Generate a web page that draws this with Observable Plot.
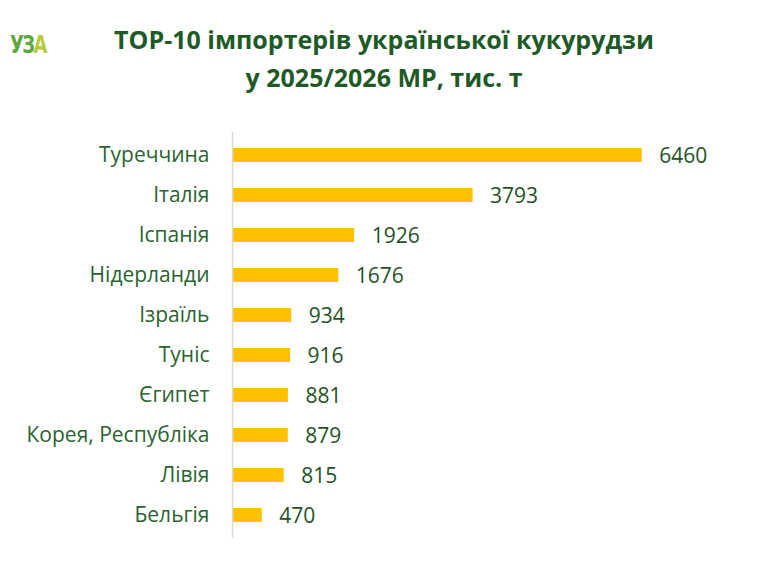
<!DOCTYPE html>
<html><head><meta charset="utf-8">
<script src="https://cdn.jsdelivr.net/npm/d3@7"></script>
<script src="https://cdn.jsdelivr.net/npm/@observablehq/plot@0.6"></script>
<style>
body{margin:0;background:#fff;width:768px;height:566px;overflow:hidden;position:relative;font-family:"Open Sans",sans-serif;}
#logo{position:absolute;left:10px;top:30px;font-family:"Liberation Sans Narrow","DejaVu Sans Condensed",sans-serif;font-weight:bold;font-size:25px;color:#5ea640;letter-spacing:-2px;transform:scaleX(0.8);transform-origin:left;}
#logo span{color:#b8c93a;}
#title{position:absolute;left:0;width:768px;top:20px;text-align:center;font-weight:bold;font-size:25px;line-height:38px;color:#1d5a26;}
#chart{position:absolute;left:0;top:110px;}
</style></head><body>
<div id="logo">УЗ<span>А</span></div>
<div id="title">ТОР-10 імпортерів української кукурудзи<br>у 2025/2026 МР, тис. т</div>
<div id="chart"></div>
<script>
const countries = ["Туреччина","Італія","Іспанія","Нідерланди","Ізраїль","Туніс","Єгипет","Корея, Республіка","Лівія","Бельгія"];
const values = [6460,3793,1926,1676,934,916,881,879,815,470];
const data = countries.map((c,i)=>({country:c,value:values[i]}));
const chart = Plot.plot({
  width:768, height:456,
  marginLeft:232, marginRight:92, marginTop:22, marginBottom:28,
  style:{fontFamily:"'Open Sans', sans-serif", fontSize:"21px", background:"#fff"},
  x:{domain:[0,7000], axis:null},
  y:{domain:countries, paddingInner:0.65, paddingOuter:0.325, label:null},
  marks:[
    Plot.axisY({tickSize:0, tickPadding:23, fontSize:21, fill:"#2a6330", label:null}),
    Plot.barX(data,{y:"country", x:"value", fill:"#ffc000"}),
    Plot.ruleX([0],{stroke:"#d9d9d9", strokeWidth:1.5}),
    Plot.text(data,{y:"country", x:"value", text:d=>String(d.value), textAnchor:"start", dx:17, dy:1, fontSize:21, fill:"#1f5226"})
  ]
});
document.getElementById("chart").appendChild(chart);
</script>
</body></html>
